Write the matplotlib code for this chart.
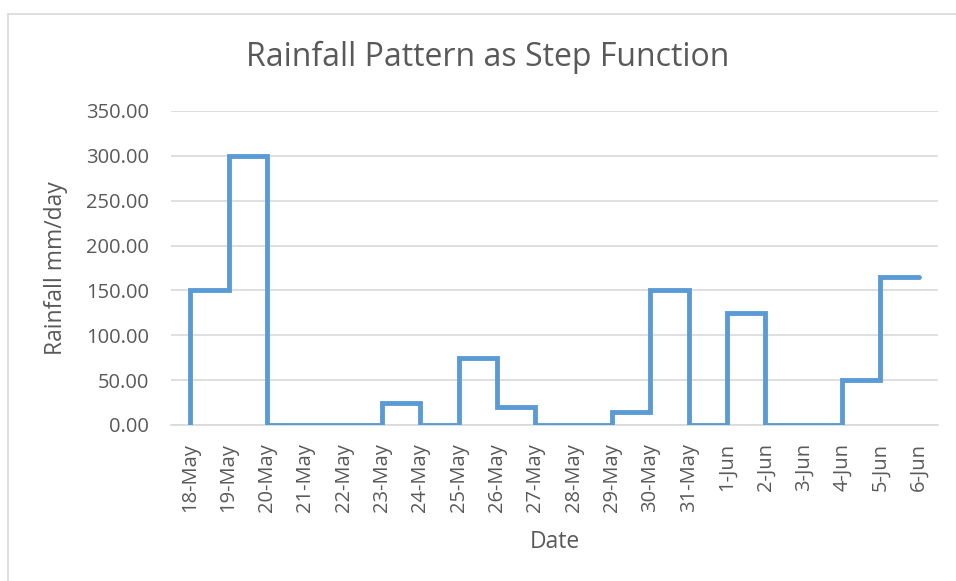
import matplotlib
matplotlib.use('Agg')
import matplotlib.pyplot as plt
import numpy as np
from matplotlib.lines import Line2D

# Daily rainfall, held constant from each date until the next one
dates = ['18-May', '19-May', '20-May', '21-May', '22-May', '23-May', '24-May',
         '25-May', '26-May', '27-May', '28-May', '29-May', '30-May', '31-May',
         '1-Jun', '2-Jun', '3-Jun', '4-Jun', '5-Jun', '6-Jun']
rainfall = [150, 300, 0, 0, 0, 25, 0, 75, 20, 0, 0, 15, 150, 0, 125, 0, 0, 50, 165]
y_ticks = [0, 50, 100, 150, 200, 250, 300, 350]

plt.rcParams['font.family'] = ['Open Sans', 'DejaVu Sans']
text_color = '#595959'
line_color = '#5B9BD5'
grid_color = '#D9D9D9'

fig = plt.figure(figsize=(9.56, 5.81), dpi=100)
fig.patch.set_facecolor('white')

# chart-area border (left and top edges visible)
fig.add_artist(Line2D([7.5 / 956, 7.5 / 956], [0, 1 - 13.5 / 581], color='#D9D9D9', lw=1.2))
fig.add_artist(Line2D([7.5 / 956, 1], [1 - 13.5 / 581, 1 - 13.5 / 581], color='#D9D9D9', lw=1.2))

ax = fig.add_axes([171 / 956, 1 - 425 / 581, (938 - 171) / 956, (425 - 111) / 581])

# step curve: start at zero on the first date, then hold each value for a day
x = np.arange(len(dates))
y = rainfall + [rainfall[-1]]
ax.step(np.r_[0, x], np.r_[0, y], where='post', color=line_color, lw=3.5,
        solid_joinstyle='miter', solid_capstyle='round', zorder=3)

ax.set_xlim(-0.5, len(dates) - 0.5)
ax.set_ylim(0, 350)
ax.set_xticks(x)
ax.set_xticklabels(dates, rotation=90, fontsize=14.5, color=text_color)
ax.set_yticks(y_ticks)
ax.set_yticklabels([f'{v:.2f}' for v in y_ticks], fontsize=14.5, color=text_color)
ax.tick_params(axis='both', length=0)
ax.tick_params(axis='x', pad=13)
ax.tick_params(axis='y', pad=16)

ax.grid(axis='y', color=grid_color, lw=1.2)
ax.set_axisbelow(True)
for s in ['top', 'right', 'left']:
    ax.spines[s].set_visible(False)
ax.spines['bottom'].set_color(grid_color)
ax.spines['bottom'].set_linewidth(1.2)

ax.set_xlabel('Date', fontsize=16.5, color=text_color)
ax.xaxis.set_label_coords(0.5, -(530 - 425) / (425 - 111))
ax.set_ylabel('Rainfall mm/day', fontsize=16.5, color=text_color)
ax.yaxis.set_label_coords(-(171 - 68) / (938 - 171), 0.5)

fig.text(488 / 956, 1 - 57 / 581, 'Rainfall Pattern as Step Function',
         ha='center', va='center', fontsize=23, color=text_color)

plt.savefig('out.png', dpi=100)
